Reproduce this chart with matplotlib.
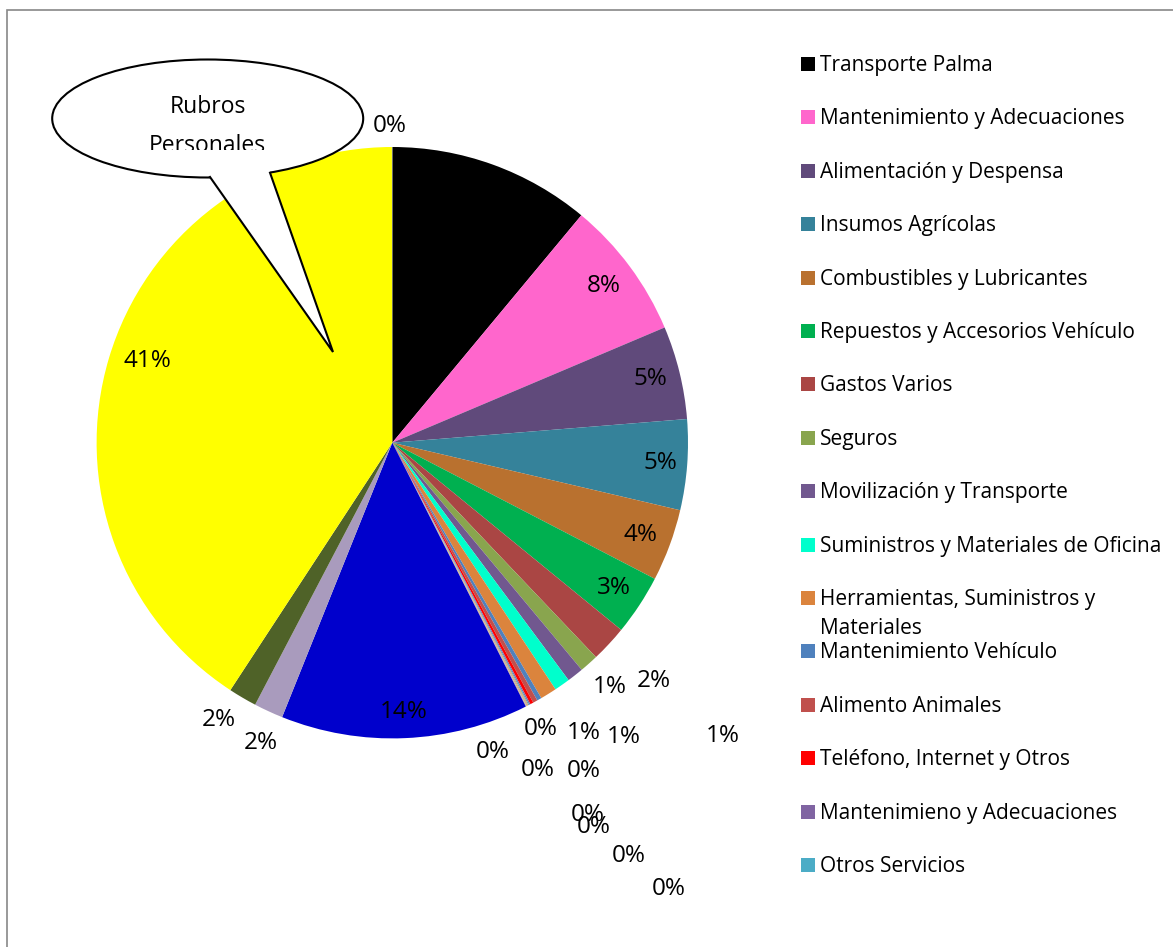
import matplotlib
matplotlib.use('Agg')
import matplotlib.pyplot as plt
from matplotlib.patches import Ellipse, Polygon, Rectangle
from matplotlib.transforms import Bbox, TransformedBbox
import numpy as np

plt.rcParams['font.family'] = ['Open Sans', 'DejaVu Sans']

# participación de cada rubro en el gasto total (%)
rubros = ['Transporte Palma', 'Mantenimiento y Adecuaciones', 'Alimentación y Despensa',
          'Insumos Agrícolas', 'Combustibles y Lubricantes',
          'Repuestos y Accesorios Vehículo', 'Gastos Varios', 'Seguros',
          'Movilización y Transporte', 'Suministros y Materiales de Oficina',
          'Herramientas, Suministros y\nMateriales', 'Mantenimiento Vehículo',
          'Alimento Animales', 'Teléfono, Internet y Otros',
          'Mantenimieno y Adecuaciones', 'Otros Servicios']

# the legend only lists the first 16 slices, the rest follow after them
valores = [11.05, 7.6, 5.1, 4.95, 3.95, 3.3, 2.0, 1.03, 0.9, 0.86, 0.9,
           0.25, 0.25, 0.17, 0.07, 0.06, 0.05, 0.05, 0.05,
           13.55, 1.6, 1.55, 40.8, 0.02]

colores = ['#000000', '#FF66CC', '#604A7B', '#35829A', '#B9712F', '#00B050',
           '#AA4644', '#89A54E', '#71588F', '#00FFCC', '#DB843D', '#4F81BD',
           '#C0504D', '#FF0000', '#8064A2', '#4BACC6', '#F79646', '#A5A5A5',
           '#D9B38C', '#0000CC', '#A99BBD', '#4F6228', '#FFFF00', '#C0C0C0']

# label placement: distance (fraction of radius) and clockwise shift from mid angle (deg)
lbl_dist = [0.90, 0.89, 0.90, 0.91, 0.895, 0.896, 1.197, 1.108, 1.265, 1.175, 1.494,
            1.092, 1.285, 1.21, 1.421, 1.467, 1.609, 1.775, 1.099,
            0.912, 1.107, 1.107, 0.873, 1.071]
lbl_shift = [0, 0, 0, 0, 0, 0, -0.6, 0, 0, 1.65, -16.5,
             2.45, -1.35, 4.2, 0, -0.25, -2.45, -4.65, 8.85,
             0, -1.15, 1.55, 1.8, -0.4]

W, H = 1173, 947
fig = plt.figure(figsize=(W / 100, H / 100), dpi=100)
ax = fig.add_axes([0, 0, 1, 1])

cx, cy, R = 392.3, H - 442.7, 295.7
wedges, _ = ax.pie(valores, colors=colores, startangle=90, counterclock=False,
                   center=(cx, cy), radius=R, wedgeprops=dict(linewidth=0))
ax.set_xlim(0, W)
ax.set_ylim(0, H)
ax.set_aspect('equal')
ax.axis('off')

total = sum(valores)
for w, v, f, s in zip(wedges, valores, lbl_dist, lbl_shift):
    ang = np.deg2rad((w.theta1 + w.theta2) / 2 - s)
    ax.text(cx + R * f * np.cos(ang), cy + R * f * np.sin(ang),
            '%.0f%%' % (100 * v / total), ha='center', va='center',
            fontsize=17.5, color='black', zorder=5)

# chart frame
ax.add_patch(Rectangle((7, -20), W + 20, H - 10 + 20, fill=False,
                       edgecolor='#888888', linewidth=1.2, zorder=10))

# legend (drawn by hand so the wrapped entry keeps the row spacing)
for i, (nom, col) in enumerate(zip(rubros, colores)):
    yrow = H - (64 + i * 53.4)
    ax.add_patch(Rectangle((801, yrow - 7), 14, 14, facecolor=col,
                           edgecolor='none', zorder=6))
    for k, linea in enumerate(nom.split('\n')):
        ax.text(820, yrow - 7 - k * 29, linea, ha='left', va='baseline',
                fontsize=15, color='black', zorder=6)

# callout bubble
ex, ey = 207.7, H - 118.5
ax.add_patch(Ellipse((ex, ey), 311, 118, facecolor='white', edgecolor='black',
                     linewidth=1.5, zorder=7))
b1, b2, tip = (210, H - 177), (270, H - 172.7), (333, H - 352)
ax.add_patch(Polygon([b1, tip, b2, (b2[0], b2[1] + 8), (b1[0], b1[1] + 8)],
                     closed=True, facecolor='white', edgecolor='white',
                     linewidth=0.5, zorder=8))
ax.plot([b1[0], tip[0], b2[0]], [b1[1], tip[1], b2[1]], color='black',
        linewidth=1.5, zorder=9, solid_joinstyle='miter')
clip = TransformedBbox(Bbox([[60, H - 150], [360, H - 60]]), ax.transData)
for txt, yy in [('Rubros', 113), ('Personales', 152)]:
    t = ax.text(ex, H - yy, txt, ha='center', va='baseline', fontsize=16.5,
                color='black', zorder=9)
    t.set_clip_box(clip)
    t.set_clip_on(True)

fig.savefig('out.png', dpi=100)
